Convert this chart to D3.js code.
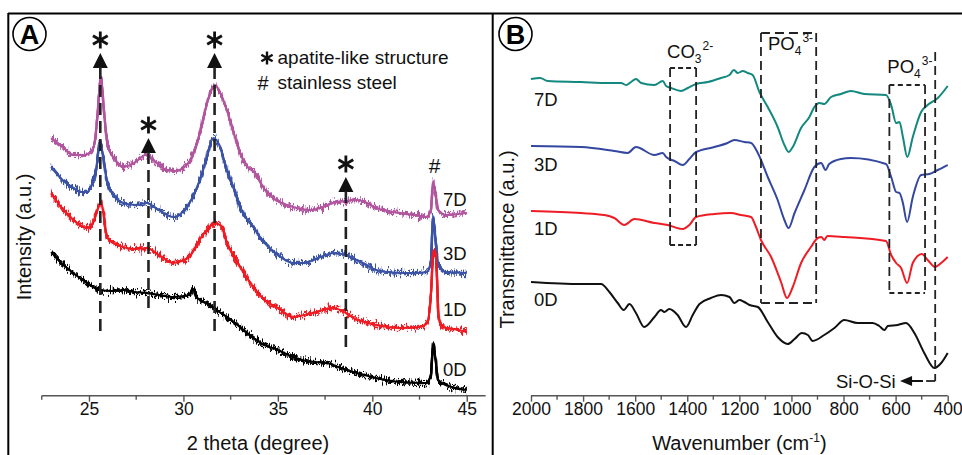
<!DOCTYPE html>
<html><head><meta charset="utf-8">
<script src="https://cdn.jsdelivr.net/npm/d3@7"></script>
<style>html,body{margin:0;padding:0;background:#fff;} svg{display:block;font-family:"Liberation Sans",Arial,sans-serif;}</style>
</head><body><svg id="c" width="962" height="455"></svg>
<script>
// ---------- Panel A: XRD (2 theta, intensity a.u.) ----------
const xrdSeries = ["7D", "3D", "1D", "0D"];
const xrdColors = ["#b2559f", "#3b52a5", "#ee1c24", "#000000"];
const xrd7D = [[23.0,257],[23.6,248],[24.17,240],[24.7,240],[25.05,242],[25.3,252],[25.45,280],[25.63,317],[25.8,282],[26.0,249],[26.4,235],[26.8,228],[27.4,232],[28.0,240],[28.6,232],[29.1,225],[29.6,224],[30.0,227],[30.5,240],[30.87,262],[31.3,295],[31.67,310],[32.0,300],[32.3,285],[32.7,260],[33.0,242],[33.4,228],[33.8,222],[34.1,212],[34.4,203],[34.9,195],[35.8,188],[36.7,185],[37.4,188],[37.9,192],[38.6,194],[39.2,195],[39.7,192],[40.2,187],[40.8,184],[41.46,182],[42.2,180],[42.87,178],[43.1,185],[43.22,213],[43.35,200],[43.48,185],[43.9,180],[44.5,181],[45.0,182]];
const xrd3D = [[23.0,228],[23.6,215],[24.17,207],[24.6,203],[24.9,203],[25.2,213],[25.38,225],[25.58,253],[25.78,235],[25.94,215],[26.3,200],[26.8,192],[27.5,190],[28.05,192],[28.7,185],[29.46,178],[29.9,182],[30.17,188],[30.5,198],[30.87,215],[31.2,235],[31.58,257],[31.9,250],[32.3,225],[32.7,205],[33.0,188],[33.4,175],[33.7,168],[34.05,158],[34.3,152],[35.0,140],[35.8,132],[36.4,132],[36.87,135],[37.4,139],[37.93,142],[38.6,140],[39.16,135],[39.7,130],[40.2,125],[41.46,122],[42.2,122],[42.87,123],[43.1,133],[43.22,178],[43.35,155],[43.48,130],[43.9,123],[45.0,122]];
const xrd1D = [[23.0,202],[23.6,186],[24.17,175],[24.6,169],[24.9,167],[25.2,172],[25.4,182],[25.62,193],[25.8,178],[25.94,158],[26.3,152],[26.8,148],[27.4,146],[28.05,147],[28.7,140],[29.46,132],[29.9,134],[30.3,138],[30.7,150],[30.95,158],[31.3,166],[31.67,172],[32.0,169],[32.3,152],[32.7,138],[33.0,128],[33.4,116],[33.7,108],[34.3,95],[35.0,87],[35.8,78],[36.4,80],[36.87,82],[37.4,85],[37.93,87],[38.6,82],[39.0,77],[39.6,73],[40.2,70],[41.46,67],[42.5,68],[42.9,72],[43.1,100],[43.22,140],[43.32,145],[43.42,120],[43.5,80],[43.7,68],[44.3,66],[45.0,63]];
const xrd0D = [[23.0,143],[23.6,131],[24.17,122],[24.9,112],[25.58,105],[26.2,104],[26.8,105],[27.4,103],[28.05,102],[28.7,100],[29.46,98],[30.0,99],[30.3,100],[30.52,106],[30.7,98],[30.87,95],[31.2,92],[31.58,87],[32.3,78],[33.0,68],[33.7,57],[34.3,50],[35.0,45],[35.8,38],[36.5,34],[37.0,33],[37.6,32],[38.2,28],[38.97,23],[39.6,20],[40.2,17],[41.46,13],[42.87,12],[43.1,20],[43.22,52],[43.35,35],[43.48,15],[43.9,10],[45.0,5]];
const xrdData = [xrd7D, xrd3D, xrd1D, xrd0D];
const xrdLabelY = [206, 260, 316, 376];
const xrdTicks = [25, 30, 35, 40, 45];
const xrdMinorTicks = [22.5, 27.5, 32.5, 37.5, 42.5];
// apatite markers: 2theta, asterisk centre (a.u.), dashed-line bottom (a.u.)
const apatitePeaks = [25.6, 28.15, 31.65, 38.6];
const apatiteStarY = [355, 270, 355, 231];
const apatiteLineEnd = [58, 83, 58, 45];
const steelPeak = 43.3;

// ---------- Panel B: FTIR (wavenumber, transmittance a.u.) ----------
const ftirSeries = ["7D", "3D", "1D", "0D"];
const ftirColors = ["#12887e", "#3447a0", "#ee1c24", "#111111"];
const ftir7D = [[2000,321],[1965,322],[1936,319],[1808,318],[1705,317],[1654,317],[1635,315],[1616,318],[1597,321],[1577,317],[1526,315],[1494,319],[1481,314],[1462,312],[1424,309],[1398,312],[1366,316],[1321,318],[1270,322],[1238,325],[1221,330],[1206,327],[1187,329],[1168,327],[1149,325],[1123,308],[1091,293],[1053,273],[1027,255],[1011,248],[995,253],[963,272],[931,283],[912,293],[893,297],[874,296],[848,303],[810,306],[772,309],[720,306],[637,305],[617,295],[598,277],[585,278],[572,263],[555,243],[534,263],[502,288],[477,295],[438,302],[400,314]];
const ftir3D = [[2000,254],[1808,253],[1680,249],[1629,247],[1597,253],[1526,245],[1494,247],[1481,243],[1449,239],[1417,235],[1392,241],[1366,248],[1296,253],[1245,257],[1219,260],[1181,258],[1155,257],[1129,247],[1091,223],[1053,200],[1027,180],[1011,172],[988,187],[950,210],[912,233],[886,237],[869,230],[855,236],[810,241],[772,242],[637,236],[617,223],[598,208],[585,207],[572,197],[556,178],[534,203],[502,225],[470,226],[438,230],[400,235]];
const ftir1D = [[2000,189],[1808,187],[1718,185],[1680,182],[1642,175],[1603,181],[1526,177],[1475,175],[1417,171],[1392,175],[1366,183],[1296,186],[1232,187],[1194,185],[1155,183],[1136,173],[1117,160],[1078,143],[1040,118],[1017,102],[995,113],[963,137],[925,153],[899,162],[885,163],[874,160],[862,164],[797,163],[637,159],[617,145],[598,137],[579,132],[556,117],[534,137],[499,146],[477,140],[448,133],[425,137],[400,143]];
const ftir0D = [[2000,118],[1808,116],[1731,116],[1699,108],[1667,97],[1644,90],[1622,96],[1597,87],[1565,73],[1526,83],[1501,90],[1488,88],[1469,91],[1437,85],[1405,73],[1379,85],[1353,96],[1309,102],[1270,105],[1238,103],[1219,97],[1200,100],[1181,98],[1161,95],[1129,93],[1091,78],[1053,63],[1014,56],[988,61],[960,67],[937,65],[918,59],[874,65],[835,72],[797,80],[746,77],[688,77],[663,74],[643,70],[630,74],[592,75],[560,77],[528,67],[490,47],[451,32],[425,37],[400,47]];
const ftirData = [ftir7D, ftir3D, ftir1D, ftir0D];
const ftirLabelY = [105.5, 171, 234.5, 306];
const ftirTicks = [2000, 1800, 1600, 1400, 1200, 1000, 800, 600, 400];
const ftirMinorTicks = [1900, 1700, 1500, 1300, 1100, 900, 700, 500];
// band boxes: wn left, wn right, top a.u., bottom a.u.
const boxCO3 = [1466, 1366, 332, 155];
const boxPO4a = [1117, 905, 367, 97];
const boxPO4b = [624, 487, 315, 107];
const siosi = 448;

const svg = d3.select("#c");
const defs = svg.append("defs");
function fuzzFilter(id, seed, freq, scale){
  const f = defs.append("filter").attr("id",id).attr("x","-2%").attr("y","-15%").attr("width","104%").attr("height","130%");
  f.append("feTurbulence").attr("type","fractalNoise").attr("baseFrequency",freq).attr("numOctaves",2).attr("seed",seed).attr("result","n");
  f.append("feColorMatrix").attr("in","n").attr("type","matrix")
    .attr("values","0 0 0 0 0.5  0 1 0 0 0  0 0 1 0 0  0 0 0 0 1").attr("result","m");
  f.append("feDisplacementMap").attr("in","SourceGraphic").attr("in2","m").attr("scale",scale).attr("xChannelSelector","R").attr("yChannelSelector","G");
}
fuzzFilter("fuzz1", 4, "0.85 0.12", 16);
fuzzFilter("fuzz2", 11, "0.7 0.1", 14);

// frame
svg.append("line").attr("x1",8).attr("x2",962).attr("y1",13.5).attr("y2",13.5).attr("stroke","#000").attr("stroke-width",2);
svg.append("line").attr("x1",8.3).attr("x2",8.3).attr("y1",13).attr("y2",455).attr("stroke","#000").attr("stroke-width",2);
svg.append("line").attr("x1",492.7).attr("x2",492.7).attr("y1",13).attr("y2",455).attr("stroke","#000").attr("stroke-width",2);

function circleLetter(cx, cy, t){
  svg.append("circle").attr("cx",cx).attr("cy",cy).attr("r",16.5).attr("fill","none").attr("stroke","#000").attr("stroke-width",1.6);
  svg.append("text").attr("x",cx).attr("y",cy+9.5).attr("text-anchor","middle").attr("font-size",27).attr("font-weight","bold").text(t);
}
circleLetter(29.5, 34, "A");
circleLetter(515.5, 34, "B");

// ===== Panel A =====
const xA = d3.scaleLinear().domain([22.5,45]).range([41.75,466.75]);
const yA = d3.scaleLinear().domain([0,380]).range([395,15]);
const axisY = 395.7;
const gA = svg.append("g");
gA.append("line").attr("x1",xA(22.5)).attr("x2",xA(46)).attr("y1",axisY).attr("y2",axisY).attr("stroke","#555").attr("stroke-width",1.6);
const axA = d3.axisBottom(xA).tickValues(xrdTicks).tickSize(6).tickSizeOuter(0).tickFormat(d3.format("d"));
const gax = gA.append("g").attr("transform",`translate(0,${axisY})`).call(axA);
gax.select(".domain").remove();
gax.selectAll(".tick line").attr("stroke","#555").attr("stroke-width",1.4);
gax.selectAll(".tick text").attr("font-size",17.5).attr("fill","#111").attr("font-family","Liberation Sans, Arial, sans-serif").attr("dy","0.55em").attr("y",10);
gA.selectAll(".minA").data(xrdMinorTicks).join("line").attr("x1",d=>xA(d)).attr("x2",d=>xA(d)).attr("y1",axisY).attr("y2",axisY+4).attr("stroke","#555").attr("stroke-width",1.4);
gA.append("text").attr("x",xA(33.95)).attr("y",449.5).attr("text-anchor","middle").attr("font-size",20).attr("fill","#111").text("2 theta (degree)");
gA.append("text").attr("transform","translate(31,237) rotate(-90)").attr("text-anchor","middle").attr("font-size",20).attr("fill","#111").text("Intensity (a.u.)");

const lineA = d3.line().x(d=>xA(d[0])).y(d=>yA(d[1])).curve(d3.curveMonotoneX);
xrdData.forEach((s,i)=>{
  gA.append("path").attr("d",lineA(s)).attr("fill","none").attr("stroke",xrdColors[i]).attr("stroke-width",2.2);
  gA.append("path").attr("d",lineA(s)).attr("fill","none").attr("stroke",xrdColors[i]).attr("stroke-width",2.4).attr("filter","url(#fuzz1)");
  gA.append("path").attr("d",lineA(s)).attr("fill","none").attr("stroke",xrdColors[i]).attr("stroke-width",2.2).attr("filter","url(#fuzz2)");
  gA.append("text").attr("x",443).attr("y",xrdLabelY[i]).attr("font-size",18.5).attr("fill","#111").text(xrdSeries[i]);
});

function star(g, cx, cy, r, w){
  [90,30,150].forEach(a=>{
    const rad = a*Math.PI/180;
    g.append("line").attr("x1",cx-r*Math.cos(rad)).attr("y1",cy-r*Math.sin(rad)).attr("x2",cx+r*Math.cos(rad)).attr("y2",cy+r*Math.sin(rad)).attr("stroke","#111").attr("stroke-width",w);
  });
}
apatitePeaks.forEach((p,i)=>{
  const x = xA(p), sy = yA(apatiteStarY[i]);
  star(gA, x, sy, 8.5, 2.8);
  const ty = sy + 13;
  gA.append("path").attr("d",`M${x},${ty} L${x-7.5},${ty+15} L${x+7.5},${ty+15} Z`).attr("fill","#111");
  gA.append("line").attr("x1",x).attr("x2",x).attr("y1",ty+14).attr("y2",yA(apatiteLineEnd[i])).attr("stroke","#222").attr("stroke-width",2.6).attr("stroke-dasharray","12,6");
});
gA.append("text").attr("x",xA(steelPeak)).attr("y",173).attr("text-anchor","middle").attr("font-size",21).attr("fill","#111").text("#");
// legend
star(gA, 267, 58, 6.5, 2.4);
gA.append("text").attr("x",277.5).attr("y",64).attr("font-size",19).attr("fill","#111").text("apatite-like structure");
gA.append("text").attr("x",263).attr("y",90).attr("text-anchor","middle").attr("font-size",20).attr("fill","#111").text("#");
gA.append("text").attr("x",277.5).attr("y",88.5).attr("font-size",19).attr("fill","#111").text("stainless steel");

// ===== Panel B =====
const xB = d3.scaleLinear().domain([2000,400]).range([531,947.7]);
const yB = d3.scaleLinear().domain([0,385]).range([400,15]);
const gB = svg.append("g");
gB.append("line").attr("x1",xB(2000)).attr("x2",xB(400)).attr("y1",axisY).attr("y2",axisY).attr("stroke","#555").attr("stroke-width",1.6);
const axB = d3.axisBottom(xB).tickValues(ftirTicks).tickSize(6).tickSizeOuter(0).tickFormat(d3.format("d"));
const gbx = gB.append("g").attr("transform",`translate(0,${axisY})`).call(axB);
gbx.select(".domain").remove();
gbx.selectAll(".tick line").attr("stroke","#555").attr("stroke-width",1.4);
gbx.selectAll(".tick text").attr("font-size",17.5).attr("fill","#111").attr("font-family","Liberation Sans, Arial, sans-serif").attr("dy","0.55em").attr("y",10);
gB.selectAll(".minB").data(ftirMinorTicks).join("line").attr("x1",d=>xB(d)).attr("x2",d=>xB(d)).attr("y1",axisY).attr("y2",axisY+4).attr("stroke","#555").attr("stroke-width",1.4);
const wt = gB.append("text").attr("x",xB(1200)).attr("y",449.5).attr("text-anchor","middle").attr("font-size",20).attr("fill","#111");
wt.append("tspan").text("Wavenumber (cm");
wt.append("tspan").attr("font-size",12).attr("dy",-8).text("-1");
wt.append("tspan").attr("dy",8).text(")");
gB.append("text").attr("transform","translate(514,239.5) rotate(-90)").attr("text-anchor","middle").attr("font-size",20).attr("fill","#111").text("Transmittance (a.u.)");

const lineB = d3.line().x(d=>xB(d[0])).y(d=>yB(d[1])).curve(d3.curveMonotoneX);
ftirData.forEach((s,i)=>{
  gB.append("path").attr("d",lineB(s)).attr("fill","none").attr("stroke",ftirColors[i]).attr("stroke-width",2).attr("stroke-linejoin","round");
  gB.append("text").attr("x",534).attr("y",ftirLabelY[i]).attr("font-size",18.5).attr("fill","#111").text(ftirSeries[i]);
});

function box(b, dashSide, dashTB){
  const x1=xB(b[0]), x2=xB(b[1]), y1=yB(b[2]), y2=yB(b[3]);
  const st = (sel,d)=>sel.attr("stroke","#222").attr("stroke-width",1.8).attr("fill","none").attr("stroke-dasharray",d);
  st(gB.append("line").attr("x1",x1).attr("x2",x1).attr("y1",y1).attr("y2",y2), dashSide);
  st(gB.append("line").attr("x1",x2).attr("x2",x2).attr("y1",y1).attr("y2",y2), dashSide);
  st(gB.append("line").attr("x1",x1).attr("x2",x2).attr("y1",y1).attr("y2",y1), dashTB);
  st(gB.append("line").attr("x1",x1).attr("x2",x2).attr("y1",y2).attr("y2",y2), dashTB);
}
box(boxCO3, "9,5", "5,3");
box(boxPO4a, "9,5", "9,5");
box(boxPO4b, "9,5", "5,3.5");

function ionLabel(x, y, base, sub, sup){
  const t = gB.append("text").attr("x",x).attr("y",y).attr("font-size",18.5).attr("fill","#111");
  t.append("tspan").text(base);
  t.append("tspan").attr("font-size",12).attr("dy",5).text(sub);
  t.append("tspan").attr("font-size",12).attr("dy",-13).attr("dx",1).text(sup);
}
ionLabel(xB(1466)-3, 58, "CO", "3", "2-");
ionLabel(xB(1117)+7, 50, "PO", "4", "3-");
ionLabel(xB(624)-2, 73, "PO", "4", "3-");

// Si-O-Si marker
const sx = xB(siosi), sBot = yB(19);
gB.append("line").attr("x1",sx).attr("x2",sx).attr("y1",yB(348)).attr("y2",sBot).attr("stroke","#222").attr("stroke-width",1.8).attr("stroke-dasharray","9,5");
gB.append("line").attr("x1",sx).attr("x2",xB(483)).attr("y1",sBot).attr("y2",sBot).attr("stroke","#222").attr("stroke-width",1.8);
gB.append("line").attr("x1",xB(495)).attr("x2",xB(560)).attr("y1",sBot).attr("y2",sBot).attr("stroke","#111").attr("stroke-width",2);
const ax0 = xB(583);
gB.append("path").attr("d",`M${ax0},${sBot} L${ax0+12},${sBot-5} L${ax0+12},${sBot+5} Z`).attr("fill","#111");
gB.append("text").attr("x",xB(600)).attr("y",sBot+6.5).attr("text-anchor","end").attr("font-size",18.5).attr("fill","#111").text("Si-O-Si");
</script></body></html>
